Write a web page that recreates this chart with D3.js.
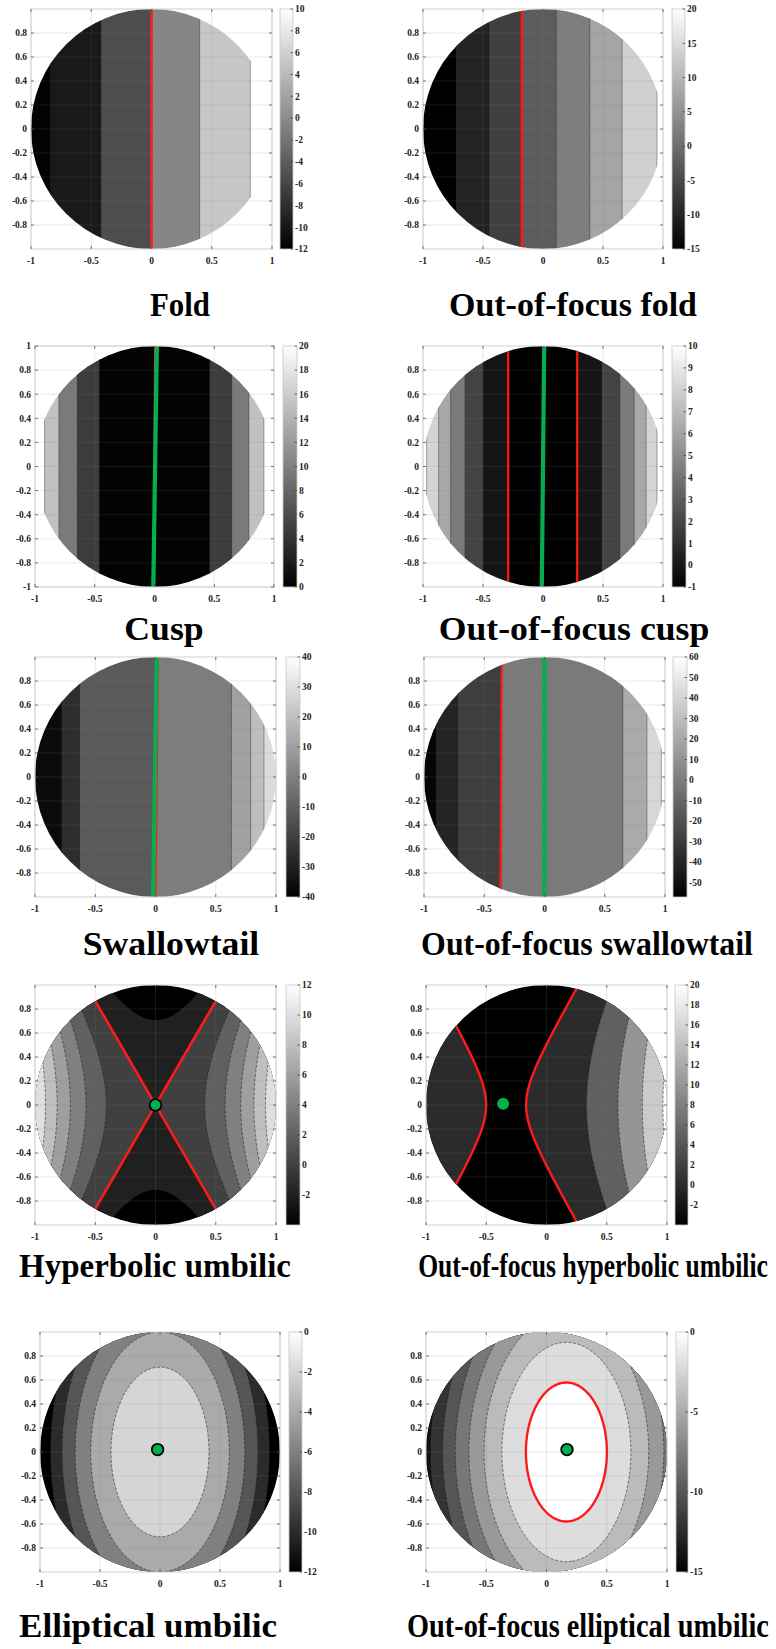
<!DOCTYPE html>
<html>
<head>
<meta charset="utf-8">
<script src="https://cdn.jsdelivr.net/npm/d3@7"></script>
<style>
  html, body { margin: 0; padding: 0; background: #fff; }
  svg { display: block; }
  .tick-label { font-family: "Liberation Serif", "Times New Roman", serif; font-weight: bold; font-size: 9.5px; fill: #222; }
  .panel-title { font-family: "Liberation Serif", "Times New Roman", serif; font-weight: bold; font-size: 34px; fill: #000; }
</style>
</head>
<body>
<svg id="fig" width="776" height="1649"></svg>
<script>
// ---------------- data ----------------
const panelTitles = [
  "Fold", "Out-of-focus fold",
  "Cusp", "Out-of-focus cusp",
  "Swallowtail", "Out-of-focus swallowtail",
  "Hyperbolic umbilic", "Out-of-focus hyperbolic umbilic",
  "Elliptical umbilic", "Out-of-focus elliptical umbilic"
];

// pupil-plane axis ticks
const xTickValues = [-1, -0.5, 0, 0.5, 1];
const yTickValues = [-0.8, -0.6, -0.4, -0.2, 0, 0.2, 0.4, 0.6, 0.8];
const yTickValuesFull = [-1, -0.8, -0.6, -0.4, -0.2, 0, 0.2, 0.4, 0.6, 0.8, 1];

// colour-bar ranges and tick labels
const foldRange = [-12, 10];
const foldCbTicks = [-12, -10, -8, -6, -4, -2, 0, 2, 4, 6, 8, 10];
const oofFoldRange = [-15, 20];
const oofFoldCbTicks = [-15, -10, -5, 0, 5, 10, 15, 20];
const cuspRange = [0, 20];
const cuspCbTicks = [0, 2, 4, 6, 8, 10, 12, 14, 16, 18, 20];
const oofCuspRange = [-1, 10];
const oofCuspCbTicks = [-1, 0, 1, 2, 3, 4, 5, 6, 7, 8, 9, 10];
const swallowRange = [-40, 40];
const swallowCbTicks = [-40, -30, -20, -10, 0, 10, 20, 30, 40];
const oofSwallowRange = [-57, 60];
const oofSwallowCbTicks = [-50, -40, -30, -20, -10, 0, 10, 20, 30, 40, 50, 60];
const hypRange = [-4, 12];
const hypCbTicks = [-2, 0, 2, 4, 6, 8, 10, 12];
const oofHypRange = [-4, 20];
const oofHypCbTicks = [-2, 0, 2, 4, 6, 8, 10, 12, 14, 16, 18, 20];
const ellRange = [-12, 0];
const ellCbTicks = [-12, -10, -8, -6, -4, -2, 0];
const oofEllRange = [-15, 0];
const oofEllCbTicks = [-15, -10, -5, 0];

// vertical contour bands: x edges of the bands and the level of each band
const foldEdges = [-1, -0.84, -0.42, 0, 0.40, 0.82, 1];
const foldLevels = [-11.8, -9.8, -5.4, -0.4, 5.2, 10];
const oofFoldEdges = [-1, -0.725, -0.45, -0.175, 0.11, 0.39, 0.66, 0.95, 1];
const oofFoldLevels = [-14.8, -10.2, -6.2, -2.4, 2.3, 7.6, 13.5, 20];
const cuspEdges = [-1, -0.92, -0.80, -0.646, -0.46, 0.46, 0.646, 0.79, 0.916, 1];
const cuspLevels = [20, 15.1, 9.6, 4.7, 0.2, 4.7, 9.6, 15.1, 20];
const oofCuspEdges = [-1, -0.97, -0.87, -0.77, -0.65, -0.50, -0.29, 0.285, 0.49, 0.64, 0.76, 0.86, 0.95, 1];
const oofCuspLevels = [10, 8.15, 6.25, 4.26, 1.93, -0.09, -0.95, -0.09, 1.93, 4.26, 6.25, 8.15, 10];
const swallowEdges = [-1, -0.78, -0.63, 0, 0.63, 0.79, 0.90, 1];
const swallowLevels = [-36.9, -25.9, -11.8, -0.8, 10.2, 19.6, 29.0];
const oofSwallowEdges = [-1, -0.90, -0.72, -0.36, 0.65, 0.85, 0.97, 1];
const oofSwallowLevels = [-54.7, -40.6, -28.5, -1.0, 21.0, 41.6, 60];

// umbilic surfaces: [a, b, x0, c, q] -> a(x-x0)^2 + b y^2 + c + q(x-x0)^4
const hypSurface = [12, -4, 0, 0, 0];
const hypLevels = [-2, 0, 2, 4, 6, 8, 10, 12];
const oofHypSurface = [12, -4, -0.335, -0.33, 0];
const oofHypLevels = [0, 5, 10, 15, 20];
const ellSurface = [-12, -4, 0, 0, 0];
const ellLevels = [-10, -8, -6, -4, -2, 0];
const oofEllSurface = [-12, -4, 0.165, 1.34, 1.2];
const oofEllLevels = [-14, -12, -10, -8, -6, -4, -2, 0];

// singular lines (red) and the aberration axis (green), as [[x,y],[x,y]] segments
const foldRed = [[[0, 1], [0, -1]]];
const oofFoldRed = [[[-0.175, 1], [-0.175, -1]]];
const cuspRed = [[[0.005, 1], [-0.005, -1]]];
const cuspGreen = [[[0.02, 1], [-0.01, -1]]];
const oofCuspRed = [[[-0.29, 1], [-0.29, -1]], [[0.285, 1], [0.285, -1]]];
const oofCuspGreen = [[[0.01, 1], [-0.01, -1]]];
const swallowRed = [[[0.02, 1], [0.0, -1]]];
const swallowGreen = [[[0.01, 1], [-0.02, -1]]];
const oofSwallowRed = [[[-0.355, 1], [-0.365, -1]]];
const oofSwallowGreen = [[[0.0, 1], [0.0, -1]]];
const hypRed = [[[-0.5, 0.866], [0.5, -0.866]], [[0.5, 0.866], [-0.5, -0.866]]];

// umbilic points
const hypPoint = [0, 0];
const oofHypPoint = [-0.36, 0.01];
const ellPoint = [-0.02, 0.02];
const oofEllPoint = [0.17, 0.02];

// ---------------- panel table ----------------
const panels = [
  { range: foldRange, cbTicks: foldCbTicks, yTicks: yTickValues, edges: foldEdges, levels: foldLevels, red: foldRed },
  { range: oofFoldRange, cbTicks: oofFoldCbTicks, yTicks: yTickValues, edges: oofFoldEdges, levels: oofFoldLevels, red: oofFoldRed },
  { range: cuspRange, cbTicks: cuspCbTicks, yTicks: yTickValuesFull, edges: cuspEdges, levels: cuspLevels, red: cuspRed, green: cuspGreen },
  { range: oofCuspRange, cbTicks: oofCuspCbTicks, yTicks: yTickValues, edges: oofCuspEdges, levels: oofCuspLevels, red: oofCuspRed, green: oofCuspGreen },
  { range: swallowRange, cbTicks: swallowCbTicks, yTicks: yTickValues, edges: swallowEdges, levels: swallowLevels, red: swallowRed, green: swallowGreen },
  { range: oofSwallowRange, cbTicks: oofSwallowCbTicks, yTicks: yTickValues, edges: oofSwallowEdges, levels: oofSwallowLevels, red: oofSwallowRed, green: oofSwallowGreen },
  { range: hypRange, cbTicks: hypCbTicks, yTicks: yTickValues, surface: hypSurface, contourLevels: hypLevels, red: hypRed, point: hypPoint, pointRing: true },
  { range: oofHypRange, cbTicks: oofHypCbTicks, yTicks: yTickValues, surface: oofHypSurface, contourLevels: oofHypLevels, redZero: true, point: oofHypPoint, pointRing: false },
  { range: ellRange, cbTicks: ellCbTicks, yTicks: yTickValues, surface: ellSurface, contourLevels: ellLevels, point: ellPoint, pointRing: true },
  { range: oofEllRange, cbTicks: oofEllCbTicks, yTicks: yTickValues, surface: oofEllSurface, contourLevels: oofEllLevels, redZero: true, point: oofEllPoint, pointRing: true }
];

// page layout: plot box [left, right, top, bottom], colour bar [left, right],
// title [centre x, baseline y, width]
const layout = [
  { box: [31, 272, 9, 249],     cb: [280, 293], title: [180, 316, 60] },
  { box: [423, 663, 9, 249],    cb: [672, 685], title: [573, 316, 248] },
  { box: [35, 274, 346, 587],   cb: [283, 297], title: [164, 640, 80] },
  { box: [423, 663, 346, 587],  cb: [672, 686], title: [574, 640, 272] },
  { box: [35, 276, 657, 897],   cb: [286, 300], title: [171, 955, 182] },
  { box: [424, 665, 657, 897],  cb: [673, 687], title: [587, 955, 332] },
  { box: [35, 276, 985, 1225],  cb: [286, 300], title: [155, 1277, 272] },
  { box: [426, 667, 985, 1225], cb: [675, 688], title: [593, 1277, 350] },
  { box: [40, 280, 1332, 1572], cb: [289, 302], title: [148, 1637, 258] },
  { box: [426, 667, 1332, 1572],cb: [676, 688], title: [588, 1637, 362] }
];

// ---------------- drawing ----------------
const svg = d3.select("#fig");
const defs = svg.append("defs");
const grad = defs.append("linearGradient").attr("id", "grayMap")
  .attr("x1", 0).attr("y1", 1).attr("x2", 0).attr("y2", 0);
grad.append("stop").attr("offset", 0).attr("stop-color", "#000");
grad.append("stop").attr("offset", 1).attr("stop-color", "#fff");

const RED = "#ff1a1a";
const GREEN = "#00b050";

function surfaceValue(s, xv, yv) {
  const dx = xv - s[2];
  return s[0] * dx * dx + s[1] * yv * yv + s[3] + s[4] * dx * dx * dx * dx;
}

function drawPanel(p, L, idx) {
  const [bx0, bx1, by0, by1] = L.box;
  const x = d3.scaleLinear().domain([-1, 1]).range([bx0, bx1]);
  const y = d3.scaleLinear().domain([-1, 1]).range([by1, by0]);
  const color = d3.scaleLinear().domain(p.range).range(["#000000", "#ffffff"]).clamp(true);
  const g = svg.append("g").attr("class", "panel");

  const clipId = "pupil" + idx;
  defs.append("clipPath").attr("id", clipId).append("ellipse")
    .attr("cx", x(0)).attr("cy", y(0))
    .attr("rx", x(1) - x(0)).attr("ry", y(-1) - y(0));

  const plot = g.append("g").attr("clip-path", `url(#${clipId})`);

  if (p.edges) {
    // vertical bands, each spanning its own pair of edges (slight overlap hides seams)
    const bands = d3.pairs(p.edges).map((e, k) => ({ x0: e[0], x1: e[1], v: p.levels[k] }));
    plot.selectAll("rect.band").data(bands).join("rect")
      .attr("class", "band")
      .attr("x", d => x(d.x0)).attr("width", d => x(d.x1) - x(d.x0) + 0.6)
      .attr("y", y(1)).attr("height", y(-1) - y(1))
      .attr("fill", d => color(d.v));
    plot.selectAll("line.edge").data(p.edges.slice(1, -1)).join("line")
      .attr("class", "edge")
      .attr("x1", d => x(d)).attr("x2", d => x(d))
      .attr("y1", y(1)).attr("y2", y(-1))
      .attr("stroke", "#111").attr("stroke-opacity", 0.45).attr("stroke-width", 0.8);
  } else {
    // sampled surface traced into filled contours
    const n = 221, lo = -1.1, hi = 1.1, step = (hi - lo) / (n - 1);
    const values = new Float64Array(n * n);
    for (let j = 0; j < n; j++) {
      for (let i = 0; i < n; i++) {
        values[j * n + i] = surfaceValue(p.surface, lo + i * step, hi - j * step);
      }
    }
    const proj = d3.geoTransform({
      point(px, py) { this.stream.point(x(lo + (px - 0.5) * step), y(hi - (py - 0.5) * step)); }
    });
    const path = d3.geoPath(proj);
    plot.append("rect")
      .attr("x", bx0).attr("y", by0).attr("width", bx1 - bx0).attr("height", by1 - by0)
      .attr("fill", color(p.range[0]));
    const bands = d3.contours().size([n, n]).thresholds(p.contourLevels)(values);
    plot.selectAll("path.band").data(bands).join("path")
      .attr("class", "band")
      .attr("d", path)
      .attr("fill", d => color(d.value));
    plot.selectAll("path.isoline").data(bands).join("path")
      .attr("class", "isoline")
      .attr("d", path)
      .attr("fill", "none")
      .attr("stroke", "#151515").attr("stroke-opacity", 0.75)
      .attr("stroke-width", 0.7).attr("stroke-dasharray", "3,1.6");
    if (p.redZero) {
      const zero = d3.contours().size([n, n]).thresholds([0])(values);
      plot.selectAll("path.zero").data(zero).join("path")
        .attr("class", "zero")
        .attr("d", path)
        .attr("fill", "none").attr("stroke", RED).attr("stroke-width", 2.4);
    }
  }

  const seg = (sel, data, cls, stroke, w) => sel.selectAll("line." + cls).data(data || []).join("line")
    .attr("class", cls)
    .attr("x1", d => x(d[0][0])).attr("y1", d => y(d[0][1]))
    .attr("x2", d => x(d[1][0])).attr("y2", d => y(d[1][1]))
    .attr("stroke", stroke).attr("stroke-width", w).attr("stroke-linecap", "butt");
  seg(plot, p.red, "red", RED, p.green ? 2.2 : 2.6);
  seg(plot, p.green, "green", GREEN, 4.2);

  // grid, box and ticks
  const axes = g.append("g");
  axes.selectAll("line.gx").data(xTickValues).join("line").attr("class", "gx")
    .attr("x1", d => x(d)).attr("x2", d => x(d)).attr("y1", by0).attr("y2", by1)
    .attr("stroke", "#808080").attr("stroke-opacity", 0.22).attr("stroke-width", 0.8);
  axes.selectAll("line.gy").data(p.yTicks).join("line").attr("class", "gy")
    .attr("y1", d => y(d)).attr("y2", d => y(d)).attr("x1", bx0).attr("x2", bx1)
    .attr("stroke", "#808080").attr("stroke-opacity", 0.22).attr("stroke-width", 0.8);
  axes.append("rect").attr("x", bx0).attr("y", by0).attr("width", bx1 - bx0).attr("height", by1 - by0)
    .attr("fill", "none").attr("stroke", "#cfcfcf").attr("stroke-width", 1);
  const tk = 3;
  axes.selectAll("path.tx").data(xTickValues).join("path").attr("class", "tx")
    .attr("d", d => `M${x(d)},${by1}v${-tk}M${x(d)},${by0}v${tk}`)
    .attr("stroke", "#555").attr("stroke-width", 0.8);
  axes.selectAll("path.ty").data(p.yTicks).join("path").attr("class", "ty")
    .attr("d", d => `M${bx0},${y(d)}h${tk}M${bx1},${y(d)}h${-tk}`)
    .attr("stroke", "#555").attr("stroke-width", 0.8);

  axes.selectAll("text.xl").data(xTickValues).join("text").attr("class", "tick-label xl")
    .attr("x", d => x(d)).attr("y", by1 + 15).attr("text-anchor", "middle")
    .text(d => String(d));
  axes.selectAll("text.yl").data(p.yTicks).join("text").attr("class", "tick-label yl")
    .attr("x", bx0 - 4).attr("y", d => y(d)).attr("dy", "0.35em").attr("text-anchor", "end")
    .text(d => String(d));

  // colour bar
  const [cx0, cx1] = L.cb;
  const cy = d3.scaleLinear().domain(p.range).range([by1, by0]);
  const cbar = g.append("g");
  cbar.append("rect").attr("x", cx0).attr("y", by0).attr("width", cx1 - cx0).attr("height", by1 - by0)
    .attr("fill", "url(#grayMap)").attr("stroke", "#c8c8c8").attr("stroke-width", 0.8);
  cbar.selectAll("line.ct").data(p.cbTicks).join("line").attr("class", "ct")
    .attr("x1", cx1).attr("x2", cx1 - 2.5).attr("y1", d => cy(d)).attr("y2", d => cy(d))
    .attr("stroke", "#444").attr("stroke-width", 0.8);
  cbar.selectAll("text.cl").data(p.cbTicks).join("text").attr("class", "tick-label cl")
    .attr("x", cx1 + 2).attr("y", d => cy(d)).attr("dy", "0.35em")
    .text(d => String(d));

  // umbilic point
  if (p.point) {
    g.append("circle")
      .attr("cx", x(p.point[0])).attr("cy", y(p.point[1]))
      .attr("r", p.pointRing ? 5.8 : 6)
      .attr("fill", GREEN)
      .attr("stroke", p.pointRing ? "#000" : "none").attr("stroke-width", 1.8);
  }

  // title, narrowed horizontally to its slot width
  const title = g.append("text").attr("class", "panel-title")
    .attr("x", 0).attr("y", 0)
    .attr("text-anchor", "middle")
    .text(panelTitles[idx]);
  const natural = title.node().getComputedTextLength();
  const sx = Math.min(1.05, L.title[2] / natural);
  title.attr("transform", `translate(${L.title[0]},${L.title[1]}) scale(${sx.toFixed(4)},1)`);
}

panels.forEach((p, i) => drawPanel(p, layout[i], i));
</script>
</body>
</html>
